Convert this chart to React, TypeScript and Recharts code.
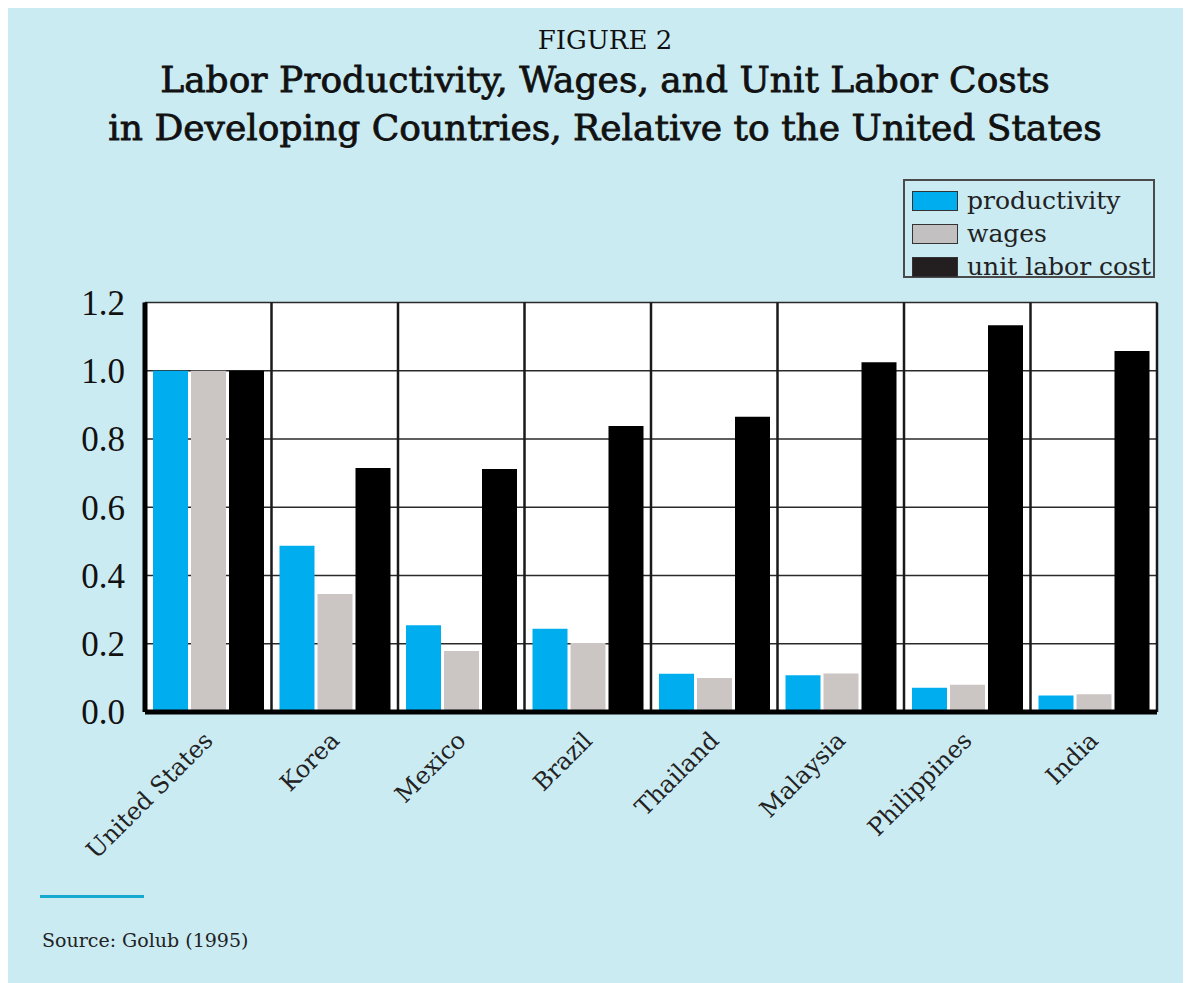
import { BarChart, Bar, XAxis, YAxis, CartesianGrid, Legend } from "recharts";

const countries = [
  "United States",
  "Korea",
  "Mexico",
  "Brazil",
  "Thailand",
  "Malaysia",
  "Philippines",
  "India",
];
const productivity = [1.0, 0.487, 0.254, 0.244, 0.112, 0.108, 0.071, 0.048];
const wages = [1.0, 0.346, 0.179, 0.202, 0.1, 0.113, 0.08, 0.052];
const unitLaborCost = [1.0, 0.715, 0.712, 0.838, 0.865, 1.025, 1.133, 1.058];
const yTicks = [0, 0.2, 0.4, 0.6, 0.8, 1.0, 1.2];
const legendOrder = ["productivity", "wages", "unit labor cost"];

const data = countries.map((c, i) => ({
  country: c,
  productivity: productivity[i],
  wages: wages[i],
  ulc: unitLaborCost[i],
}));

const SERIF = "'DejaVu Serif', serif";
const BG = "#cbebf3";

const swatchFill: Record<string, string> = {
  productivity: "#00aeef",
  wages: "#c2c0c0",
  "unit labor cost": "#231f20",
};

function LegendBox({ payload }: any) {
  const items = [...(payload || [])].sort(
    (a: any, b: any) => legendOrder.indexOf(a.value) - legendOrder.indexOf(b.value)
  );
  return (
    <div
      style={{
        position: "relative",
        width: 252,
        height: 99,
        border: "2px solid #4a4a4a",
        boxSizing: "border-box",
        fontFamily: SERIF,
        fontSize: 25,
        color: "#222",
      }}
    >
      {items.map((p: any, i: number) => (
        <div
          key={i}
          style={{ position: "absolute", left: 7, top: 3 + i * 33, height: 33, display: "flex", alignItems: "center" }}
        >
          <span
            style={{
              display: "inline-block",
              width: 46,
              height: 20,
              background: swatchFill[p.value] || p.color,
              border: "1.5px solid #333",
              boxSizing: "border-box",
              marginRight: 9,
            }}
          />
          <span style={{ lineHeight: "33px" }}>{p.value}</span>
        </div>
      ))}
    </div>
  );
}

function CountryTick({ x, y, payload }: any) {
  return (
    <text
      transform={`translate(${x + 6},${y + 30}) rotate(-45)`}
      textAnchor="end"
      fontFamily={SERIF}
      fontSize={24}
      fill="#222"
    >
      {payload.value}
    </text>
  );
}

export default function App() {
  return (
    <div style={{ position: "relative", width: 1183, height: 975, background: BG, overflow: "hidden" }}>
      <div
        style={{
          position: "absolute",
          left: 0,
          width: 1194,
          top: 19,
          textAlign: "center",
          fontFamily: SERIF,
          fontSize: 26,
          lineHeight: "26px",
          color: "#111",
        }}
      >
        FIGURE 2
      </div>
      <div
        style={{
          position: "absolute",
          left: 0,
          width: 1194,
          top: 47.5,
          textAlign: "center",
          fontFamily: SERIF,
          fontSize: 36,
          lineHeight: "48px",
          color: "#111",
          WebkitTextStroke: "0.8px #111",
        }}
      >
        Labor Productivity, Wages, and Unit Labor Costs
        <br />
        in Developing Countries, Relative to the United States
      </div>

      <div style={{ position: "absolute", left: 0, top: 0 }}>
        <BarChart
          width={1183}
          height={975}
          data={data}
          margin={{ top: 294.5, right: 34, bottom: 111, left: 37 }}
          barCategoryGap={8}
          barGap={3}
        >
          <CartesianGrid horizontal vertical={false} fill="#ffffff" stroke="#2a2a2a" strokeWidth={1.6} />
          <CartesianGrid
            horizontal={false}
            vertical
            stroke="#1a1a1a"
            strokeWidth={2.5}
            verticalCoordinatesGenerator={({ offset }: any) =>
              [...countries, ""].map((_, i) => offset.left + (i * offset.width) / countries.length)
            }
          />
          <XAxis
            dataKey="country"
            interval={0}
            height={160}
            tickLine={false}
            tickSize={0}
            tickMargin={0}
            axisLine={{ stroke: "#000", strokeWidth: 5 }}
            tick={<CountryTick />}
          />
          <YAxis
            domain={[0, 1.2]}
            ticks={yTicks}
            width={100}
            tickLine={false}
            tickSize={0}
            tickMargin={20}
            axisLine={{ stroke: "#000", strokeWidth: 5 }}
            tickFormatter={(v: number) => v.toFixed(1)}
            tick={{ fontFamily: "'Liberation Serif', serif", fontSize: 35, fill: "#111" }}
          />
          <Legend
            layout="horizontal"
            verticalAlign="middle"
            align="center"
            wrapperStyle={{ left: 895, top: 171, width: 252, height: 99 }}
            content={<LegendBox />}
          />
          <Bar dataKey="productivity" name="productivity" fill="#00aeef" isAnimationActive={false} />
          <Bar dataKey="wages" name="wages" fill="#cbc6c3" isAnimationActive={false} />
          <Bar dataKey="ulc" name="unit labor cost" fill="#000000" isAnimationActive={false} />
        </BarChart>
      </div>

      <div style={{ position: "absolute", left: 32, top: 887, width: 104, height: 3, background: "#16a9d0" }} />
      <div
        style={{
          position: "absolute",
          left: 34,
          top: 923,
          fontFamily: SERIF,
          fontSize: 19,
          lineHeight: "19px",
          color: "#222",
        }}
      >
        Source: Golub (1995)
      </div>
    </div>
  );
}
